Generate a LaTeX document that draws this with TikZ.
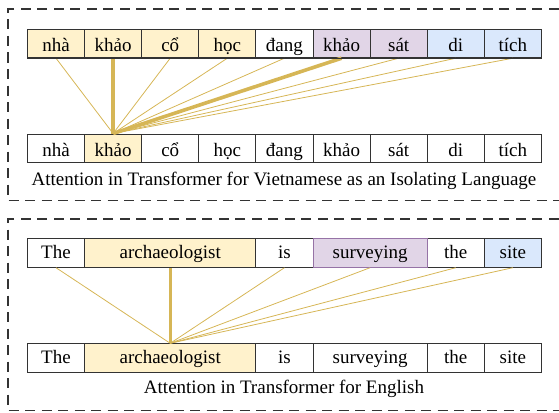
\documentclass[tikz,border=0pt]{standalone}
\usepackage{fontspec}
\setmainfont{Liberation Serif}
\definecolor{attnline}{HTML}{D6B656}
\definecolor{subjfill}{HTML}{FFF2CC}
\definecolor{verbfill}{HTML}{E1D5E7}
\definecolor{verbdraw}{HTML}{9673A6}
\definecolor{objfill}{HTML}{DAE8FC}
\definecolor{celldraw}{HTML}{333333}

\begin{document}
\begin{tikzpicture}[x=1pt, y=-1pt,
		tok/.style={draw=celldraw, line width=0.9pt, minimum height=28.5pt, inner sep=0pt,
			text height=14pt, text depth=3.5pt, font=\fontsize{19}{22}\selectfont},
		vtok/.style={tok, minimum width=57.1pt, anchor=north west, text height=17pt, text depth=1.1pt},
		attn/.style={attnline, line width=0.8pt},
		strong/.style={attnline, line width=3.6pt},
		frame/.style={black!80, line width=1.2pt, dash pattern=on 10pt off 6.5pt}]
		\useasboundingbox (0,0) rectangle (559,412);

		% Vietnamese: one syllable per cell
		\foreach \i/\w/\f in {1/nhà/subjfill, 2/khảo/subjfill, 3/cổ/subjfill, 4/học/subjfill,
				5/đang/white, 6/khảo/verbfill, 7/sát/verbfill, 8/di/objfill, 9/tích/objfill} {
			\node [vtok, fill=\f] (vt\i) at ({27+57.11*(\i-1)}, 28.8) {\w};
		}
		\foreach \i/\w in {1/nhà, 2/khảo, 3/cổ, 4/học, 5/đang, 6/khảo, 7/sát, 8/di, 9/tích} {
			\node [vtok, fill=white] (vb\i) at ({27+57.11*(\i-1)}, 133.5) {\w};
		}
		\node [vtok, fill=subjfill] at (vb2.north west) {khảo};

		% attention of "khảo" to every syllable
		\foreach \i in {1,3,4,5,7,8,9} {
			\draw [attn] (vb2.north) -- (vt\i.south);
		}
		\draw [strong] (vb2.north) -- (vt2.south);
		\draw [strong] (vb2.north) -- (vt6.south);
		\foreach \i in {1,...,9} {
			\draw [draw=celldraw, line width=0.9pt] (vt\i.south west) -- (vt\i.south east);
		}

		\node [font=\fontsize{19}{22}\selectfont] (vcap) at (284, 181) {Attention in Transformer for Vietnamese as an Isolating Language};
		\draw [frame] (575, 9) -- (8, 9) -- (8, 200.5) -- (575, 200.5);

		% English: one word per cell, widths in syllable units
		\foreach \i/\w/\x/\n/\f in {1/The/0/1/white, 2/archaeologist/1/3/subjfill, 3/is/4/1/white,
				4/surveying/5/2/verbfill, 5/the/7/1/white, 6/site/8/1/objfill} {
			\node [tok, fill=\f, minimum width={57.1pt*\n}, anchor=north west] (et\i) at ({27+57.11*\x}, 238.3) {\w};
			\node [tok, fill=white, minimum width={57.1pt*\n}, anchor=north west] (eb\i) at ({27+57.11*\x}, 343.3) {\w};
		}
		\node [tok, draw=verbdraw, fill=verbfill, minimum width=114.2pt, anchor=north west] at (et4.north west) {surveying};
		\node [tok, fill=subjfill, minimum width=171.3pt, anchor=north west] at (eb2.north west) {archaeologist};

		% attention of "archaeologist" to every word
		\foreach \i in {1,3,4,5,6} {
			\draw [attn] (eb2.north) -- (et\i.south);
		}
		\draw [strong, line width=3pt] (eb2.north) -- (et2.south);

		\node [font=\fontsize{19}{22}\selectfont] (ecap) at (284, 389) {Attention in Transformer for English};
		\draw [frame] (575, 219) -- (8, 219) -- (8, 410.5) -- (575, 410.5);
	\end{tikzpicture}
\end{document}
